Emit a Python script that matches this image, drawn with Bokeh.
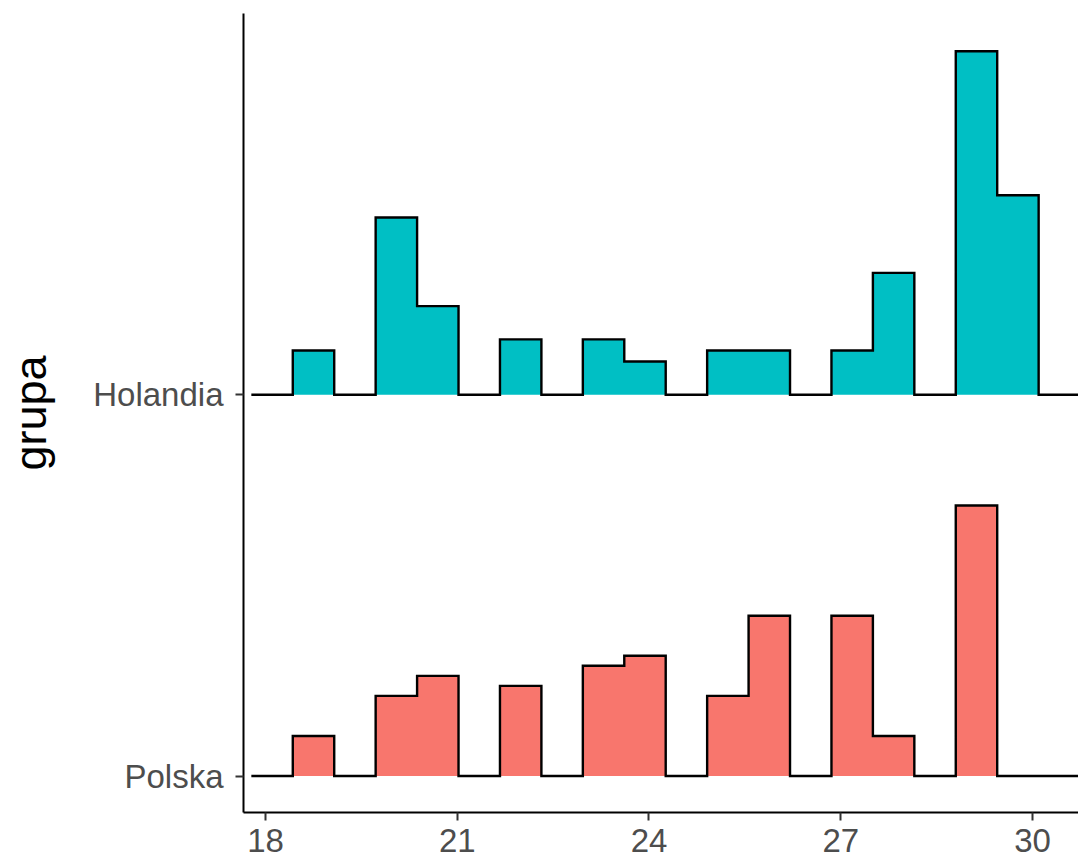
import numpy as np
from bokeh.plotting import figure
from bokeh.models import Range1d, FixedTicker
from bokeh.embed import file_html
from bokeh.resources import INLINE

# ---- data ----
groups = ["Polska", "Holandia"]
fill_colors = ["#F8766D", "#00BFC4"]
bin_start = 18.427      # left edge of the first bin
bin_width = 0.6483
polska_counts = [4, 0, 8, 10, 0, 9, 0, 11, 12, 0, 8, 16, 0, 16, 4, 0, 27, 0]
holandia_counts = [4, 0, 16, 8, 0, 5, 0, 5, 3, 0, 4, 4, 0, 4, 11, 0, 31, 18]
x_ticks = [18, 21, 24, 27, 30]
y_title = "grupa"

counts = [polska_counts, holandia_counts]
densities = [np.array(c, dtype=float) / (sum(c) * bin_width) for c in counts]
max_density = max(d.max() for d in densities)
PEAK = 0.901  # height (in ridge units) of the tallest bin overall

FONT = "Liberation Sans"

p = figure(width=1078, height=865, output_backend="svg", toolbar_location=None,
           x_range=Range1d(17.656, 30.72), y_range=Range1d(0.9043, 3.0),
           min_border_left=243, min_border_right=0, min_border_top=13,
           min_border_bottom=53, background_fill_color="white",
           border_fill_color="white")

# draw from top ridge to bottom ridge
for gi in reversed(range(len(groups))):
    base = gi + 1
    d = densities[gi]
    n = len(d)
    h = np.concatenate([[0.0], d / max_density * PEAK, [0.0]])
    edges = bin_start + bin_width * np.arange(-1, n + 2)
    xs = np.repeat(edges, 2)[1:-1]
    ys = base + np.repeat(h, 2)
    px = np.concatenate([xs, [xs[-1], xs[0]]])
    py = np.concatenate([ys, [base, base]])
    p.patch(px, py, fill_color=fill_colors[gi], line_color=None)
    p.line(xs, ys, line_color="black", line_width=2.4, line_join="miter")

p.grid.visible = False
p.outline_line_color = None

for ax in (p.xaxis[0], p.yaxis[0]):
    ax.axis_line_color = "black"
    ax.axis_line_width = 2
    ax.major_tick_line_color = "#333333"
    ax.major_tick_line_width = 2
    ax.major_tick_out = 8
    ax.major_tick_in = 0
    ax.minor_tick_line_color = None
    ax.major_label_text_font = FONT
    ax.major_label_text_font_size = "33px"
    ax.major_label_text_color = "#4D4D4D"

p.xaxis.ticker = FixedTicker(ticks=x_ticks)
p.xaxis.major_label_standoff = 8

p.yaxis.ticker = FixedTicker(ticks=[i + 1 for i in range(len(groups))])
p.yaxis.major_label_overrides = {i + 1: g for i, g in enumerate(groups)}
p.yaxis.major_label_standoff = 12
p.yaxis.axis_label = y_title
p.yaxis.axis_label_text_font = FONT
p.yaxis.axis_label_text_font_size = "45px"
p.yaxis.axis_label_text_font_style = "normal"
p.yaxis.axis_label_text_color = "black"
p.yaxis.axis_label_standoff = 34

open("out.html", "w").write(file_html(p, INLINE))
